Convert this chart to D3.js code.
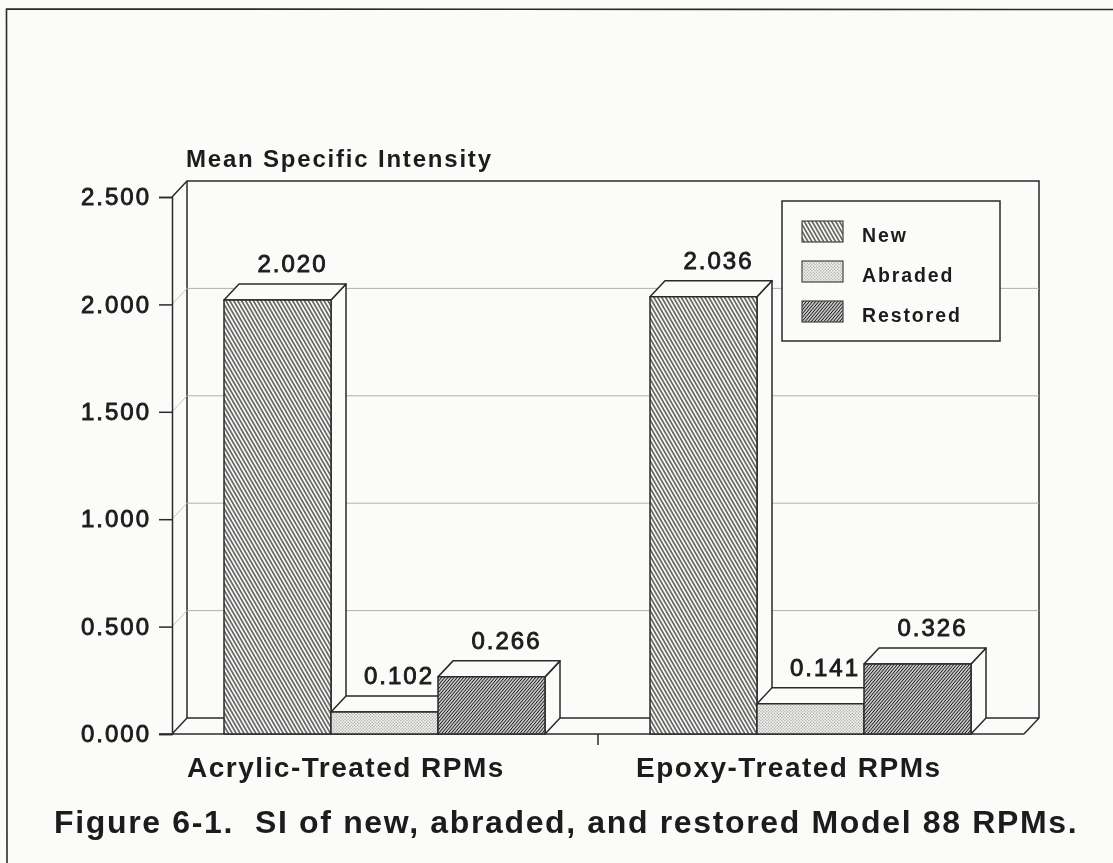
<!DOCTYPE html>
<html>
<head>
<meta charset="utf-8">
<script src="https://cdn.jsdelivr.net/npm/d3@7"></script>
<style>
  body { margin: 0; background: #fbfbf9; }
  svg { display: block; }
  text { font-family: "Liberation Sans", Arial, sans-serif; fill: #1c1c1c; }
  .num { font-size: 24px; font-weight: normal; letter-spacing: 2px; stroke: #1c1c1c; stroke-width: 0.9px; }
</style>
</head>
<body>
<div id="chart"></div>
<script>
const groups = ['Acrylic-Treated RPMs', 'Epoxy-Treated RPMs'];
const seriesNames = ['New', 'Abraded', 'Restored'];
const acrylicValues = [2.020, 0.102, 0.266];
const epoxyValues = [2.036, 0.141, 0.326];
const valueLabels = [['2.020', '0.102', '0.266'], ['2.036', '0.141', '0.326']];
const yTicks = [0, 0.5, 1, 1.5, 2, 2.5];
const yAxisTitle = 'Mean Specific Intensity';
const caption = 'Figure 6-1.  SI of new, abraded, and restored Model 88 RPMs.';

const W = 1113, H = 863;
const ink = '#2a2a2a';
const depth = { x: 15, y: 16 };
const values = [acrylicValues, epoxyValues];

const svg = d3.select('#chart').append('svg').attr('width', W).attr('height', H);
const defs = svg.append('defs');
defs.append('filter').attr('id', 'scan').attr('x', 0).attr('y', 0).attr('width', 1).attr('height', 1)
  .append('feGaussianBlur').attr('stdDeviation', 0.45);
const root = svg.append('g').attr('filter', 'url(#scan)');
root.append('rect').attr('width', W).attr('height', H).attr('fill', '#fbfbf9');

function hatch(id, size, sw, angle) {
  const p = defs.append('pattern').attr('id', id)
    .attr('width', size).attr('height', size)
    .attr('patternUnits', 'userSpaceOnUse')
    .attr('patternTransform', 'rotate(' + angle + ')');
  p.append('rect').attr('width', size).attr('height', size).attr('fill', '#f6f6f5');
  p.append('line').attr('x1', 0).attr('y1', size / 2).attr('x2', size).attr('y2', size / 2)
    .attr('stroke', '#1a1a1a').attr('stroke-width', sw);
}
hatch('p-new', 3.4, 1.1, 60);
hatch('p-restored', 2.4, 1.15, -50);
const dots = defs.append('pattern').attr('id', 'p-abraded')
  .attr('width', 3).attr('height', 3).attr('patternUnits', 'userSpaceOnUse');
dots.append('rect').attr('width', 3).attr('height', 3).attr('fill', '#f0f0ee');
dots.append('circle').attr('cx', 0.8).attr('cy', 0.8).attr('r', 0.7).attr('fill', '#a8a8a6');
dots.append('circle').attr('cx', 2.3).attr('cy', 2.3).attr('r', 0.7).attr('fill', '#a8a8a6');

const fills = ['url(#p-new)', 'url(#p-abraded)', 'url(#p-restored)'];

const x0 = d3.scaleBand().domain(groups).range([172, 1024]);
const x1 = d3.scaleBand().domain(seriesNames).range([52, 373]);
const y = d3.scaleLinear().domain([0, 2.5]).range([734, 197]);

// page frame, only the top and left edges show on the scan
root.append('path').attr('fill', 'none').attr('stroke', ink).attr('stroke-width', 1.6)
  .attr('d', d3.line()([[7, H], [6.5, 9], [W, 9.5]]));

// back wall and side wall
const left = x0.range()[0], right = x0.range()[1];
const walls = root.append('g').attr('fill', 'none').attr('stroke', ink).attr('stroke-width', 1.5);
walls.append('path').attr('d', d3.line()([
  [left, y(2.5)], [left + depth.x, y(2.5) - depth.y], [right + depth.x, y(2.5) - depth.y],
  [right + depth.x, y(0) - depth.y], [right, y(0)]
]));
walls.append('path').attr('d', d3.line()([
  [left + depth.x, y(2.5) - depth.y], [left + depth.x, y(0) - depth.y], [right + depth.x, y(0) - depth.y]
]));
walls.append('path').attr('d', d3.line()([[left + depth.x, y(0) - depth.y], [left, y(0)]]));

// gridlines on the back wall
root.append('g').selectAll('line').data(yTicks.slice(1, -1)).join('line')
  .attr('x1', left + depth.x).attr('x2', right + depth.x)
  .attr('y1', d => y(d) - depth.y).attr('y2', d => y(d) - depth.y)
  .attr('stroke', '#b0b0ae').attr('stroke-width', 1);
root.append('g').selectAll('line').data(yTicks.slice(1, -1)).join('line')
  .attr('x1', left).attr('x2', left + depth.x)
  .attr('y1', d => y(d)).attr('y2', d => y(d) - depth.y)
  .attr('stroke', '#c4c4c2').attr('stroke-width', 1);

// y axis
const yAxis = root.append('g').attr('transform', 'translate(' + left + ',0)')
  .call(d3.axisLeft(y).tickValues(yTicks).tickFormat(d3.format('.3f')).tickSize(13).tickPadding(8));
yAxis.selectAll('path, line').attr('stroke', ink).attr('stroke-width', 1.5);
yAxis.selectAll('text').attr('class', 'num').attr('fill', '#1c1c1c');
yAxis.attr('font-family', null).attr('font-size', null);

// x axis
root.append('line').attr('x1', left - 13).attr('x2', right).attr('y1', y(0)).attr('y2', y(0))
  .attr('stroke', ink).attr('stroke-width', 1.5);
root.append('line').attr('x1', x0(groups[1])).attr('x2', x0(groups[1]))
  .attr('y1', y(0)).attr('y2', y(0) + 11).attr('stroke', ink).attr('stroke-width', 1.5);

// bars, drawn back to front so that each one covers the side of the one before it
groups.forEach((g, gi) => {
  const bars = root.append('g').attr('transform', 'translate(' + x0(g) + ',0)');
  values[gi].forEach((v, si) => {
    const bx = x1(seriesNames[si]), bw = x1.bandwidth(), top = y(v), base = y(0);
    const cell = bars.append('g').attr('stroke', ink).attr('stroke-width', 1.5).attr('stroke-linejoin', 'round');
    cell.append('path').attr('fill', '#fbfbf9').attr('d', d3.line()([
      [bx + bw, top], [bx + bw + depth.x, top - depth.y], [bx + bw + depth.x, base - depth.y], [bx + bw, base]
    ]) + 'Z');
    cell.append('path').attr('fill', '#fbfbf9').attr('d', d3.line()([
      [bx, top], [bx + depth.x, top - depth.y], [bx + bw + depth.x, top - depth.y], [bx + bw, top]
    ]) + 'Z');
    cell.append('rect').attr('x', bx).attr('y', top).attr('width', bw).attr('height', base - top)
      .attr('fill', fills[si]);
  });
});

// value labels
groups.forEach((g, gi) => {
  values[gi].forEach((v, si) => {
    const bx = x0(g) + x1(seriesNames[si]), bw = x1.bandwidth();
    const t = root.append('text').text(valueLabels[gi][si]).attr('class', 'num').attr('y', y(v) - 28);
    if (si === 1) {
      t.attr('text-anchor', 'end').attr('x', bx + bw - 4);
    } else {
      t.attr('text-anchor', 'middle').attr('x', bx + bw / 2 + depth.x);
    }
  });
});

// axis titles and group names
root.append('text').text(yAxisTitle).attr('x', 186).attr('y', 167)
  .style('font-size', '24px').style('font-weight', 'bold').style('letter-spacing', '1.8px');
const groupLabelX = [187, 636];
root.append('g').selectAll('text').data(groups).join('text').text(d => d)
  .attr('x', (d, i) => groupLabelX[i]).attr('y', 777)
  .style('font-size', '28px').style('font-weight', 'bold').style('letter-spacing', '1.5px');
root.append('text').text(caption).attr('x', 54).attr('y', 833)
  .attr('xml:space', 'preserve')
  .style('font-size', '32px').style('font-weight', 'bold').style('letter-spacing', '1.65px');

// legend
const legend = root.append('g');
legend.append('rect').attr('x', 782).attr('y', 201).attr('width', 218).attr('height', 140)
  .attr('fill', '#fbfbf9').attr('stroke', ink).attr('stroke-width', 1.5);
const rows = legend.selectAll('g').data(seriesNames).join('g')
  .attr('transform', (d, i) => 'translate(802,' + (221 + i * 40) + ')');
rows.append('rect').attr('width', 41).attr('height', 21)
  .attr('fill', (d, i) => fills[i]).attr('stroke', '#444').attr('stroke-width', 1.2);
rows.append('text').text(d => d).attr('x', 60).attr('y', 21)
  .style('font-size', '19.5px').style('font-weight', 'bold').style('letter-spacing', '1.9px');
</script>
</body>
</html>
